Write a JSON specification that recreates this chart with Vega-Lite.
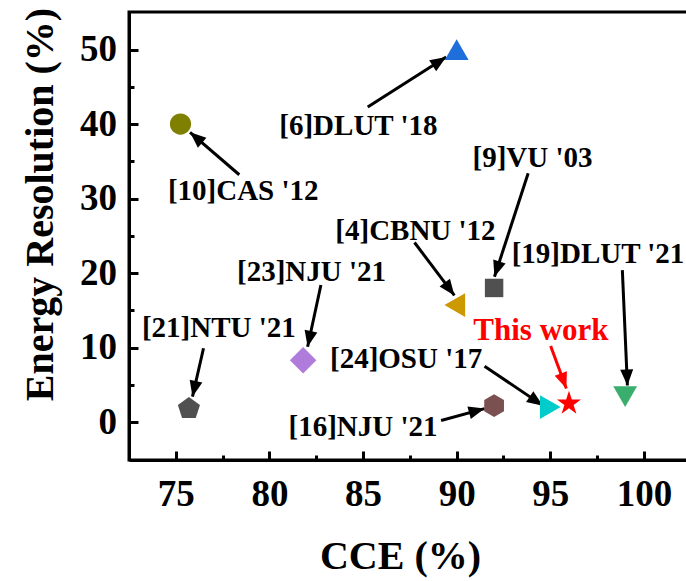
{
  "$schema": "https://vega.github.io/schema/vega-lite/v6.json",
  "autosize": {"type": "none"},
  "padding": {"left": 129, "top": 12, "right": -3, "bottom": 121},
  "width": 560,
  "height": 448,
  "background": "white",
  "view": {"stroke": "black", "strokeWidth": 3},
  "config": {
    "axis": {
      "domainColor": "black", "domainWidth": 3, "tickColor": "black", "tickWidth": 3,
      "labelFont": "Liberation Serif", "labelFontWeight": "bold", "labelFontSize": 37, "labelColor": "black",
      "titleFont": "Liberation Serif", "titleFontWeight": "bold", "titleFontSize": 40, "titleColor": "black",
      "grid": false
    }
  },
  "datasets": {
    "pts": [
      {"name": "[6]DLUT '18", "cce": 90, "er": 50},
      {"name": "[10]CAS '12", "cce": 75.25, "er": 40},
      {"name": "[9]VU '03", "cce": 92, "er": 18},
      {"name": "[4]CBNU '12", "cce": 89.9, "er": 15.7},
      {"name": "[19]DLUT '21", "cce": 99, "er": 3.4},
      {"name": "[23]NJU '21", "cce": 81.8, "er": 8.3},
      {"name": "[21]NTU '21", "cce": 75.7, "er": 1.8},
      {"name": "[24]OSU '17", "cce": 95, "er": 2},
      {"name": "This work", "cce": 96, "er": 2.5},
      {"name": "[16]NJU '21", "cce": 92, "er": 2.2}
    ],
    "lbl": [
      {"label": "[6]DLUT '18", "lx": 84.75, "ly": 38.5},
      {"label": "[10]CAS '12", "lx": 78.6, "ly": 29.8},
      {"label": "[9]VU '03", "lx": 94.05, "ly": 34.3},
      {"label": "[4]CBNU '12", "lx": 87.8, "ly": 24.4},
      {"label": "[19]DLUT '21", "lx": 97.55, "ly": 21.4},
      {"label": "[23]NJU '21", "lx": 82.25, "ly": 18.9},
      {"label": "[21]NTU '21", "lx": 77.3, "ly": 11.4},
      {"label": "This work", "lx": 94.5, "ly": 11},
      {"label": "[24]OSU '17", "lx": 87.3, "ly": 7.2},
      {"label": "[16]NJU '21", "lx": 85, "ly": -1.9}
    ],
    "arr": [
      {"label": "[6]DLUT '18", "x": 85.25, "y": 42.3, "x2": 89.44, "y2": 49.0},
      {"label": "[10]CAS '12", "x": 78.39, "y": 33.2, "x2": 75.76, "y2": 38.9},
      {"label": "[9]VU '03", "x": 93.82, "y": 33.4, "x2": 92.02, "y2": 19.5},
      {"label": "[4]CBNU '12", "x": 87.75, "y": 24.1, "x2": 89.88, "y2": 17.0},
      {"label": "[19]DLUT '21", "x": 98.85, "y": 20.4, "x2": 99.12, "y2": 4.9},
      {"label": "[23]NJU '21", "x": 82.75, "y": 18.4, "x2": 82.04, "y2": 10.1},
      {"label": "[21]NTU '21", "x": 76.48, "y": 9.9, "x2": 75.89, "y2": 3.4},
      {"label": "[24]OSU '17", "x": 91.49, "y": 7.5, "x2": 94.61, "y2": 2.2},
      {"label": "This work", "x": 95.02, "y": 10.2, "x2": 95.86, "y2": 4.5},
      {"label": "[16]NJU '21", "x": 89.17, "y": 0.2, "x2": 91.49, "y2": 1.8}
    ]
  },
  "layer": [
    {
      "data": {"name": "arr"},
      "mark": {"type": "rule", "strokeWidth": 3},
      "encoding": {
        "x": {"field": "x", "type": "quantitative", "scale": {"domain": [72.5, 102.41], "nice": false, "zero": false},
          "axis": {"orient": "bottom", "title": "CCE (%)", "values": [75, 77.5, 80, 82.5, 85, 87.5, 90, 92.5, 95, 97.5, 100],
            "labelExpr": "datum.value % 5 === 0 ? datum.label : ''",
            "tickSize": {"condition": {"test": "datum.value % 5 === 0", "value": -9}, "value": -5},
            "labelPadding": 25, "titleX": 271, "titleY": 108, "titleBaseline": "alphabetic", "titleAnchor": "middle", "titleAlign": "center"}},
        "y": {"field": "y", "type": "quantitative", "scale": {"domain": [-5.1, 55.05], "nice": false, "zero": false},
          "axis": {"orient": "left", "title": "Energy Resolution (%)", "values": [0, 5, 10, 15, 20, 25, 30, 35, 40, 45, 50],
            "labelExpr": "datum.value % 10 === 0 ? datum.label : ''",
            "tickSize": {"condition": {"test": "datum.value % 10 === 0", "value": -9}, "value": -5},
            "labelPadding": 21.5, "titleX": -77, "titleY": 192, "titleBaseline": "alphabetic", "titleAngle": 270, "titleAlign": "center"}},
        "x2": {"field": "x2"},
        "y2": {"field": "y2"},
        "color": {"condition": {"test": "datum.label === 'This work'", "value": "#ff0000"}, "value": "black"}
      }
    },
    {
      "data": {"name": "arr"},
      "transform": [
        {"calculate": "atan2((datum.x2 - datum.x) * 18.72, (datum.y2 - datum.y) * 7.448) * 180 / PI", "as": "ang"}
      ],
      "mark": {"type": "point", "filled": true, "opacity": 1, "shape": "M0,0L1.3,3.2L-1.3,3.2Z", "size": 100, "strokeWidth": 0},
      "encoding": {
        "x": {"field": "x2", "type": "quantitative", "scale": {"domain": [72.5, 102.41], "nice": false, "zero": false}},
        "y": {"field": "y2", "type": "quantitative", "scale": {"domain": [-5.1, 55.05], "nice": false, "zero": false}},
        "angle": {"field": "ang", "type": "quantitative", "scale": null},
        "color": {"condition": {"test": "datum.label === 'This work'", "value": "#ff0000"}, "value": "black"}
      }
    },
    {
      "data": {"name": "pts"},
      "mark": {"type": "point", "filled": true, "opacity": 1, "strokeWidth": 0},
      "encoding": {
        "x": {"field": "cce", "type": "quantitative", "scale": {"domain": [72.5, 102.41], "nice": false, "zero": false}},
        "y": {"field": "er", "type": "quantitative", "scale": {"domain": [-5.1, 55.05], "nice": false, "zero": false}},
        "shape": {"field": "name", "type": "nominal", "legend": null, "scale": {
          "domain": ["[6]DLUT '18", "[10]CAS '12", "[9]VU '03", "[4]CBNU '12", "[19]DLUT '21", "[23]NJU '21", "[21]NTU '21", "[24]OSU '17", "This work", "[16]NJU '21"],
          "range": ["triangle-up", "circle", "square", "triangle-left", "triangle-down", "diamond", "M0,-1L0.951,-0.309L0.588,0.809L-0.588,0.809L-0.951,-0.309Z", "triangle-right", "M0,-1L0.2245,-0.309L0.951,-0.309L0.3633,0.118L0.5878,0.809L0,0.382L-0.5878,0.809L-0.3633,0.118L-0.951,-0.309L-0.2245,-0.309Z", "M0,-1L0.866,-0.5L0.866,0.5L0,1L-0.866,0.5L-0.866,-0.5Z"]}},
        "color": {"field": "name", "type": "nominal", "legend": null, "scale": {
          "domain": ["[6]DLUT '18", "[10]CAS '12", "[9]VU '03", "[4]CBNU '12", "[19]DLUT '21", "[23]NJU '21", "[21]NTU '21", "[24]OSU '17", "This work", "[16]NJU '21"],
          "range": ["#1e6fdc", "#808000", "#505050", "#cc9900", "#3aae6c", "#b07cdc", "#505050", "#00cccc", "#ff0000", "#7a5050"]}},
        "size": {"field": "name", "type": "nominal", "legend": null, "scale": {"type": "ordinal",
          "domain": ["[6]DLUT '18", "[10]CAS '12", "[9]VU '03", "[4]CBNU '12", "[19]DLUT '21", "[23]NJU '21", "[21]NTU '21", "[24]OSU '17", "This work", "[16]NJU '21"],
          "range": [570, 450, 340, 570, 570, 700, 540, 570, 640, 520]}}
      }
    },
    {
      "data": {"name": "lbl"},
      "mark": {"type": "text", "font": "Liberation Serif", "fontWeight": "bold", "align": "center", "baseline": "alphabetic"},
      "encoding": {
        "x": {"field": "lx", "type": "quantitative", "scale": {"domain": [72.5, 102.41], "nice": false, "zero": false}},
        "y": {"field": "ly", "type": "quantitative", "scale": {"domain": [-5.1, 55.05], "nice": false, "zero": false}},
        "text": {"field": "label", "type": "nominal"},
        "size": {"condition": {"test": "datum.label === 'This work'", "value": 31}, "value": 29},
        "color": {"condition": {"test": "datum.label === 'This work'", "value": "#ff0000"}, "value": "black"}
      }
    }
  ]
}
